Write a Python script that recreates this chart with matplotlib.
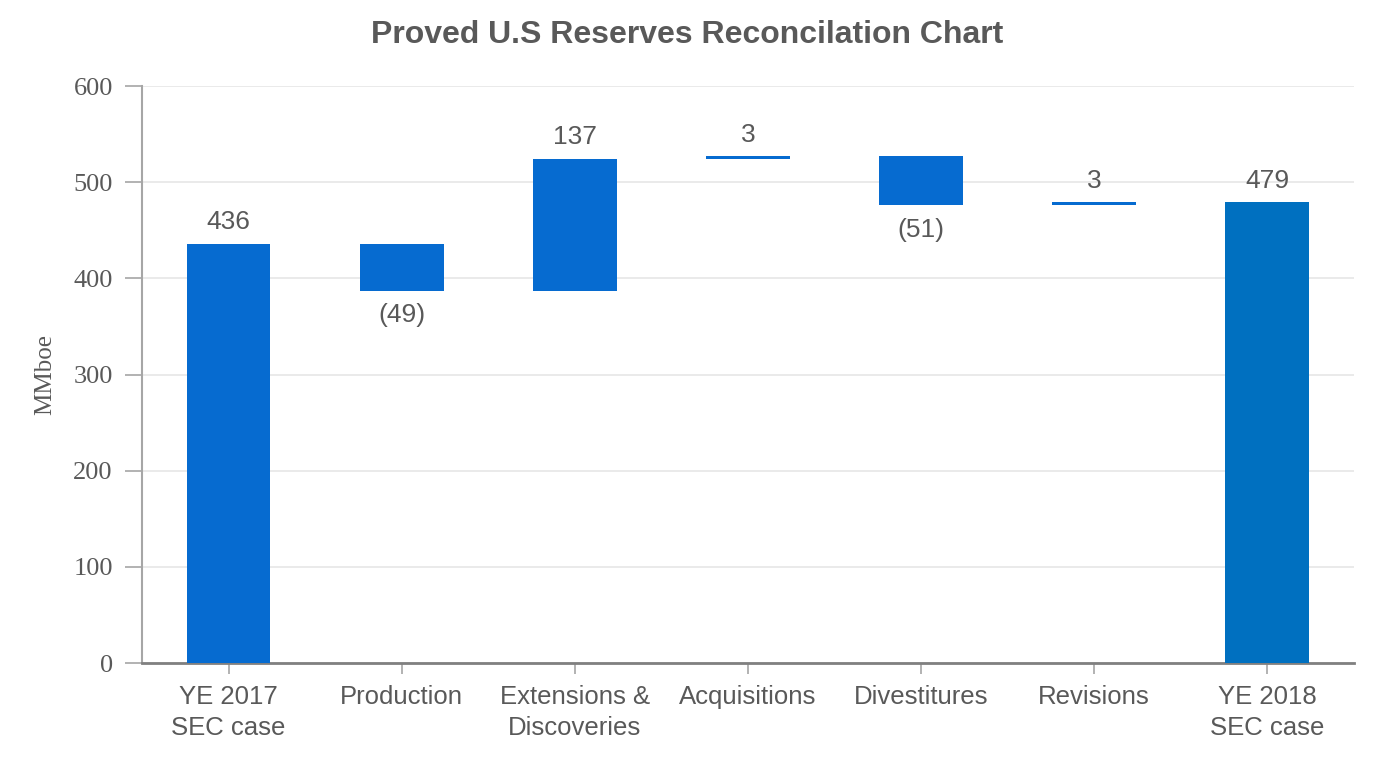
import numpy as np
import matplotlib.pyplot as plt

# waterfall data (MMboe)
categories = ["YE 2017\nSEC case", "Production", "Extensions &\nDiscoveries",
              "Acquisitions", "Divestitures", "Revisions", "YE 2018\nSEC case"]
changes = [436, -49, 137, 3, -51, 3, 479]
labels = ["436", "(49)", "137", "3", "(51)", "3", "479"]
is_total = [True, False, False, False, False, False, True]

bar_color = "#066bd0"
total_color = "#0070c0"
text_color = "#595959"

# compute bar bottoms / heights
bottoms = []
heights = []
running = 0
for v, tot in zip(changes, is_total):
    if tot:
        bottoms.append(0)
        heights.append(v)
        running = v
    else:
        if v >= 0:
            bottoms.append(running)
        else:
            bottoms.append(running + v)
        heights.append(abs(v))
        running += v

fig = plt.figure(figsize=(13.74, 7.6), dpi=100)
ax = fig.add_axes([0.1033, 0.1276, 0.8821, 0.7592])

x = np.arange(len(categories))
colors = [bar_color] * (len(categories) - 1) + [total_color]
ax.bar(x, heights, bottom=bottoms, width=0.485, color=colors, zorder=3)

# value labels
for i, (b, h, v, lab) in enumerate(zip(bottoms, heights, changes, labels)):
    if v >= 0:
        ax.annotate(lab, (i, b + h), xytext=(0, 7), textcoords="offset points",
                    ha="center", va="bottom", fontsize=19, color=text_color,
                    family="Liberation Sans")
    else:
        ax.annotate(lab, (i, b), xytext=(0, -9), textcoords="offset points",
                    ha="center", va="top", fontsize=19, color=text_color,
                    family="Liberation Sans")

ax.set_xlim(-0.5, len(categories) - 0.5)
ax.set_ylim(0, 600)
ax.set_yticks(np.arange(0, 601, 100))
ax.set_xticks(x)
ax.set_xticklabels(categories, fontsize=18.5, color=text_color, family="Liberation Sans",
                   linespacing=1.35)
for t in ax.get_yticklabels():
    t.set_family("Liberation Serif")
    t.set_fontsize(19)
    t.set_color(text_color)

ax.grid(axis="y", color="#e6e6e6", linewidth=1.2, zorder=0)
for s in ["top", "right"]:
    ax.spines[s].set_visible(False)
ax.spines["left"].set_color("#a6a6a6")
ax.spines["left"].set_linewidth(1.5)
ax.spines["bottom"].set_color("#808080")
ax.spines["bottom"].set_linewidth(2)
ax.tick_params(axis="y", length=12, width=1.2, color="#a6a6a6", pad=9)
ax.tick_params(axis="x", length=8, width=1.2, color="#a6a6a6", pad=8)

ax.set_ylabel("MMboe", fontsize=18, color=text_color, family="Liberation Serif", labelpad=12)
fig.text(0.5, 0.954, "Proved U.S Reserves Reconcilation Chart", fontsize=23, fontweight="bold",
         color=text_color, family="Liberation Sans", ha="center", va="center")

fig.savefig("out.png", dpi=100)
